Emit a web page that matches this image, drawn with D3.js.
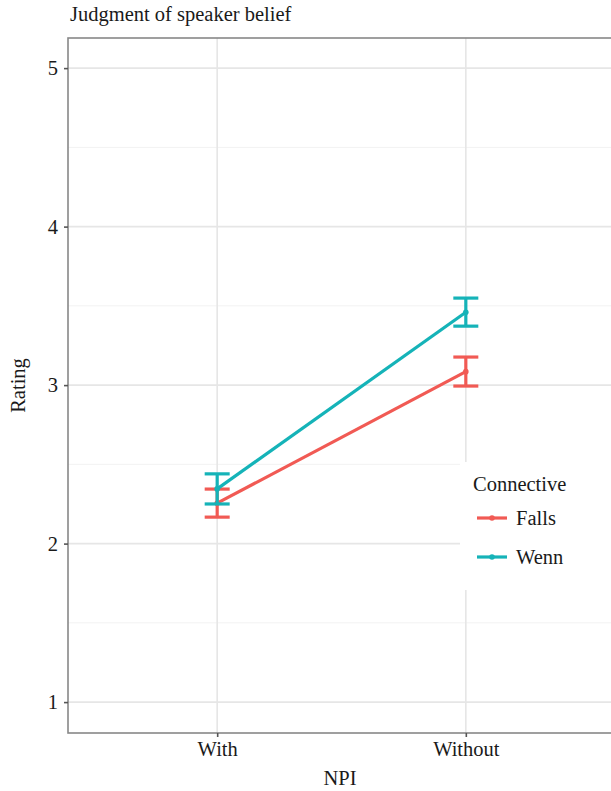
<!DOCTYPE html>
<html><head><meta charset="utf-8">
<script src="https://cdn.jsdelivr.net/npm/d3@7"></script>
<style>body{margin:0;background:#fff}svg{display:block}text{font-family:"Liberation Serif","DejaVu Serif",serif;fill:#1a1a1a}</style>
</head><body><svg id="c" width="611" height="791"></svg>
<script>
const categories = ["With", "Without"];
const seriesNames = ["Falls", "Wenn"];
const fallsMean = [2.255, 3.085];
const fallsLow = [2.167, 2.994];
const fallsHigh = [2.344, 3.177];
const wennMean = [2.345, 3.46];
const wennLow = [2.25, 3.372];
const wennHigh = [2.44, 3.549];
const yTicks = [1, 2, 3, 4, 5];
const yMinor = [1.5, 2.5, 3.5, 4.5];
const colors = ["#F15A54", "#15B3B8"];

const series = [
  {name: seriesNames[0], mean: fallsMean, lo: fallsLow, hi: fallsHigh, color: colors[0]},
  {name: seriesNames[1], mean: wennMean, lo: wennLow, hi: wennHigh, color: colors[1]}
];

const FS = 20.5;
const svg = d3.select("#c");
const L = 68, T = 38, R = 615, B = 733;
const y = d3.scaleLinear().domain([0.805, 5.19]).range([B, T]);
const x = d3.scalePoint().domain(categories).range([L, R]).padding(0.6);

const g = svg.append("g");
// grid
g.selectAll(".ymin").data(yMinor).join("line")
  .attr("x1", L).attr("x2", R).attr("y1", d => y(d)).attr("y2", d => y(d))
  .attr("stroke", "#f2f2f2").attr("stroke-width", 1);
g.selectAll(".ymaj").data(yTicks).join("line")
  .attr("x1", L).attr("x2", R).attr("y1", d => y(d)).attr("y2", d => y(d))
  .attr("stroke", "#e6e6e6").attr("stroke-width", 1.6);
g.selectAll(".xmaj").data(categories).join("line")
  .attr("y1", T).attr("y2", B).attr("x1", d => x(d)).attr("x2", d => x(d))
  .attr("stroke", "#e6e6e6").attr("stroke-width", 1.6);

// series
series.forEach(s => {
  const line = d3.line().x((d, i) => x(categories[i])).y(d => y(d));
  g.append("path").datum(s.mean).attr("d", line)
    .attr("fill", "none").attr("stroke", s.color).attr("stroke-width", 3.2);
  categories.forEach((c, i) => {
    const cx = x(c), w = 12.5;
    g.append("line").attr("x1", cx).attr("x2", cx).attr("y1", y(s.lo[i])).attr("y2", y(s.hi[i]))
      .attr("stroke", s.color).attr("stroke-width", 3.2);
    [s.lo[i], s.hi[i]].forEach(v => {
      g.append("line").attr("x1", cx - w).attr("x2", cx + w).attr("y1", y(v)).attr("y2", y(v))
        .attr("stroke", s.color).attr("stroke-width", 3.2);
    });
    g.append("circle").attr("cx", cx).attr("cy", y(s.mean[i])).attr("r", 2.8).attr("fill", s.color);
  });
});

// panel border
g.append("rect").attr("x", L).attr("y", T).attr("width", R - L).attr("height", B - T)
  .attr("fill", "none").attr("stroke", "#888").attr("stroke-width", 1.6);

// axes
const ya = svg.append("g").attr("transform", `translate(${L},0)`)
  .call(d3.axisLeft(y).tickValues(yTicks).tickSize(4).tickPadding(6).tickFormat(d3.format("d")));
const xa = svg.append("g").attr("transform", `translate(0,${B})`)
  .call(d3.axisBottom(x).tickSize(4).tickPadding(4));
[ya, xa].forEach(a => {
  a.select(".domain").remove();
  a.selectAll(".tick line").attr("stroke", "#555").attr("stroke-width", 1.6);
  a.selectAll(".tick text").attr("font-size", FS).attr("fill", "#1a1a1a")
    .attr("font-family", '"Liberation Serif", serif');
});

svg.append("text").attr("x", 70).attr("y", 21).attr("font-size", FS).text("Judgment of speaker belief");
svg.append("text").attr("x", 340).attr("y", 785).attr("text-anchor", "middle").attr("font-size", FS).text("NPI");
svg.append("text").attr("transform", `translate(25,${(T + B) / 2}) rotate(-90)`)
  .attr("text-anchor", "middle").attr("font-size", FS).text("Rating");

// legend
const lg = svg.append("g");
lg.append("rect").attr("x", 460).attr("y", 462).attr("width", 160).attr("height", 128).attr("fill", "#fff");
lg.append("text").attr("x", 473).attr("y", 491).attr("font-size", FS).text("Connective");
series.forEach((s, i) => {
  const yy = 518 + i * 39;
  lg.append("line").attr("x1", 477).attr("x2", 507).attr("y1", yy).attr("y2", yy)
    .attr("stroke", s.color).attr("stroke-width", 3.2);
  lg.append("circle").attr("cx", 492).attr("cy", yy).attr("r", 2.8).attr("fill", s.color);
  lg.append("text").attr("x", 516).attr("y", yy + 7).attr("font-size", FS).text(s.name);
});
</script></body></html>
